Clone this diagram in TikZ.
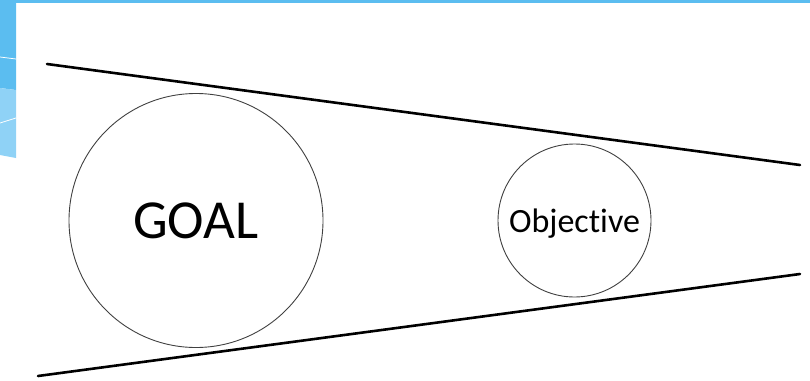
\documentclass[tikz,border=0pt]{standalone}
\usepackage{fontspec}
\setmainfont[Ligatures=NoCommon]{Carlito}
\definecolor{skyblue}{HTML}{5BBDF0}
\definecolor{paleblue}{HTML}{8FD2F6}
\definecolor{ringgray}{HTML}{404040}
\begin{document}
\begin{tikzpicture}[x=1pt,y=-1pt,
  ring/.style={circle,draw=ringgray,line width=0.9pt,inner sep=0pt,text depth=0pt},
  edge/.style={line width=2.6pt,black,line cap=round}]
\useasboundingbox (0,0) rectangle (810,380);
% blue decoration
\fill[skyblue] (0,0) rectangle (810,3);
\fill[skyblue] (0,0) -- (16,0) -- (16,90) -- (0,88) -- cycle;
\fill[paleblue] (0,88) -- (16,90) -- (16,158) -- (0,155) -- cycle;
\draw[white,line width=0.8pt] (0,57) -- (16,59);
\draw[white,line width=0.8pt] (0,123) -- (16,118);
% lines
\coordinate (t1) at (47,64);
\coordinate (t2) at (800,165);
\coordinate (b1) at (38,376);
\coordinate (b2) at (800,274);
\draw[edge] (t1) -- (t2);
\draw[edge] (b1) -- (b2);
% circles
\node[ring,minimum size=254pt,font=\fontsize{55}{60}\selectfont] (goal) at (196,220.5) {GOAL};
\node[ring,minimum size=153pt,font=\fontsize{34}{38}\selectfont] (obj) at (574.5,220.5) {Objective};
\end{tikzpicture}
\end{document}
